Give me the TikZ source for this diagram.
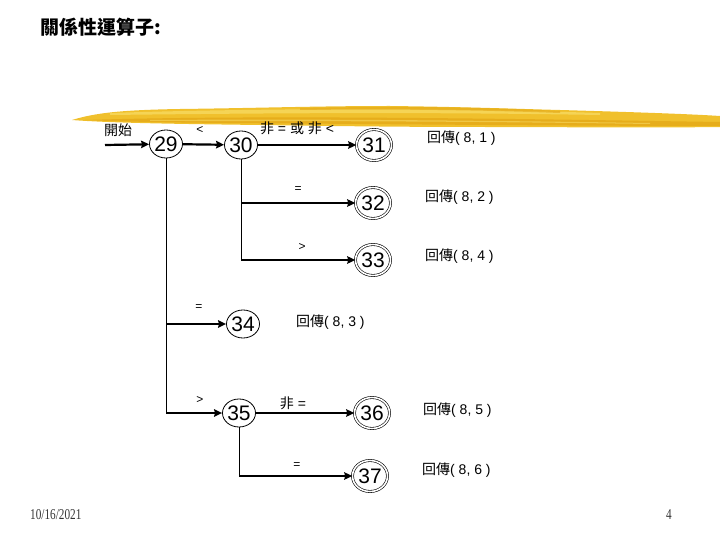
\documentclass[tikz,border=0pt]{standalone}
\usepackage{fontspec}
\setmainfont{Liberation Sans}
\newfontfamily\cjk{Noto Sans CJK TC}
\newfontfamily\datefont{Liberation Serif}
\usetikzlibrary{arrows.meta,shapes.geometric}
\definecolor{brushA}{HTML}{F0C02C}
\definecolor{brushB}{HTML}{E3A716}
\definecolor{brushC}{HTML}{F7D960}
\begin{document}
\begin{tikzpicture}[x=1pt,y=-1pt,
  state/.style={ellipse, draw, line width=0.8pt, minimum width=32pt, minimum height=28pt, inner sep=0pt, font=\fontsize{21}{21}\selectfont},
  accept/.style={ellipse, draw, line width=0.6pt, double, double distance=1.6pt, minimum width=35pt, minimum height=31pt, inner sep=0pt, font=\fontsize{21}{21}\selectfont},
  arr/.style={line width=2.2pt, -{Stealth[length=8pt,width=7.5pt,inset=1pt]}},
  thinline/.style={line width=0.9pt},
  lab/.style={font=\fontsize{14}{14}\selectfont, inner sep=0pt},
  sym/.style={font=\fontsize{12}{12}\selectfont, inner sep=0pt},
  ret/.style={font=\fontsize{14}{14}\selectfont, inner sep=0pt, anchor=west}
]
\useasboundingbox (0,0) rectangle (720,540);
% brush stroke
\fill[brushA] (72,120) .. controls (95,113) and (120,110) .. (180,109)
  .. controls (260,108) and (320,106) .. (390,106)
  .. controls (470,107) and (520,109) .. (560,110)
  .. controls (630,112) and (690,114) .. (720,116) -- (720,127)
  .. controls (640,128) and (560,127) .. (480,127)
  .. controls (400,127) and (330,126) .. (260,125)
  .. controls (180,124) and (110,123) .. (72,120) -- cycle;
\fill[brushB, opacity=0.75] (85,120) .. controls (180,117) and (300,117) .. (420,118)
  .. controls (540,119) and (650,121) .. (720,122) -- (720,126)
  .. controls (620,126) and (480,125) .. (360,124)
  .. controls (240,123) and (150,123) .. (85,120) -- cycle;
\fill[brushC, opacity=0.8] (110,113) .. controls (200,110) and (300,109) .. (400,109)
  .. controls (480,110) and (540,111) .. (600,113) -- (600,115)
  .. controls (480,113) and (350,112) .. (110,115) -- cycle;
\fill[brushB, opacity=0.6] (300,108) .. controls (400,106) and (480,107) .. (560,111) -- (560,113) .. controls (480,110) and (400,109) .. (300,110) -- cycle;
\fill[brushC, opacity=0.6] (150,120) .. controls (300,119) and (450,120) .. (650,123) -- (650,124) .. controls (450,121) and (300,121) .. (150,121) -- cycle;
% title
\node[anchor=west, inner sep=0pt, font=\cjk\bfseries\fontsize{19}{19}\selectfont] (title) at (40,27) {關係性運算子:};
% states
\node[state] (n29) at (166,144) {29};
\node[state] (n30) at (241,145) {30};
\node[accept] (n31) at (374,145) {31};
\node[accept] (n32) at (373,203) {32};
\node[accept] (n33) at (373,260) {33};
\node[state] (n34) at (243,324) {34};
\node[state] (n35) at (239,413) {35};
\node[accept] (n36) at (372,413) {36};
\node[accept] (n37) at (370,476) {37};
% start
\coordinate (s0) at (105,145);
\node[lab] (start) at (118,130) {\cjk 開始};
\draw[arr] (s0) -- (n29);
\draw[arr] (n29) -- (n30);
\node[sym] (l1) at (200,130) {<};
\draw[arr] (n30) -- (n31);
\node[lab] (l2) at (297,128) {{\cjk 非} = {\cjk 或} {\cjk 非} <};
% branch from 30
\coordinate (b32) at (n30.south |- n32.west);
\coordinate (b33) at (n30.south |- n33.west);
\draw[thinline] (n30.south) -- (b33);
\draw[arr] (b32) -- (n32);
\draw[arr] (b33) -- (n33);
\node[sym] (l3) at (298,190) {=};
\node[sym] (l4) at (302,247) {>};
% branch from 29
\coordinate (b34) at (n29.south |- n34.west);
\coordinate (b35) at (n29.south |- n35.west);
\draw[thinline] (n29.south) -- (b35);
\draw[arr] (b34) -- (n34);
\draw[arr] (b35) -- (n35);
\node[sym] (l5) at (199,308) {=};
\node[sym] (l6) at (200,400) {>};
% from 35
\draw[arr] (n35) -- (n36);
\node[lab] (l7) at (293,403) {{\cjk 非} =};
\coordinate (b37) at (n35.south |- n37.west);
\draw[thinline] (n35.south) -- (b37);
\draw[arr] (b37) -- (n37);
\node[sym] (l8) at (297,466) {=};
% returns
\node[ret] (r1) at (427,138) {{\cjk 回傳}( 8, 1 )};
\node[ret] (r2) at (425,197) {{\cjk 回傳}( 8, 2 )};
\node[ret] (r3) at (425,256) {{\cjk 回傳}( 8, 4 )};
\node[ret] (r4) at (296,322) {{\cjk 回傳}( 8, 3 )};
\node[ret] (r5) at (423,410) {{\cjk 回傳}( 8, 5 )};
\node[ret] (r6) at (422,470) {{\cjk 回傳}( 8, 6 )};
% footer
\node[anchor=west, inner sep=0pt, text=black!80, font=\datefont\fontsize{15}{15}\selectfont, xscale=0.75] (date) at (30,515) {10/16/2021};
\node[inner sep=0pt, text=black!80, font=\datefont\fontsize{15}{15}\selectfont, xscale=0.75] (page) at (669,515) {4};
\end{tikzpicture}
\end{document}
